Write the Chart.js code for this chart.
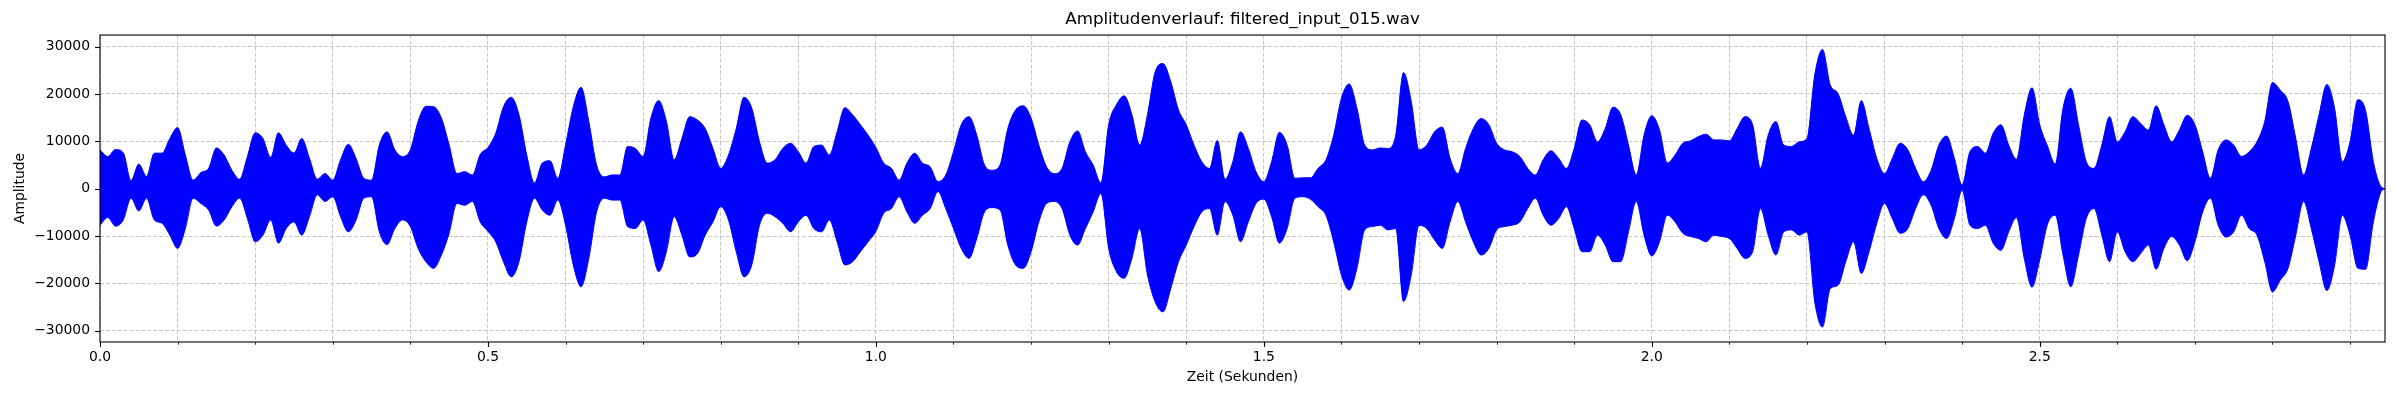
<!DOCTYPE html>
<html>
<head>
<meta charset="utf-8">
<title>Amplitudenverlauf: filtered_input_015.wav</title>
<script src="https://cdn.jsdelivr.net/npm/chart.js@4/dist/chart.umd.min.js"></script>
<style>
  html, body { margin: 0; padding: 0; background: #fff; }
  canvas { display: block; }
</style>
</head>
<body>
<canvas id="waveChart" width="2400" height="400"></canvas>
<script>
// envelope of the waveform, every 10 ms
const timeSec = [
  0.00, 0.01, 0.02, 0.03, 0.04, 0.05, 0.06, 0.07, 0.08, 0.09,
  0.10, 0.11, 0.12, 0.13, 0.14, 0.15, 0.16, 0.17, 0.18, 0.19,
  0.20, 0.21, 0.22, 0.23, 0.24, 0.25, 0.26, 0.27, 0.28, 0.29,
  0.30, 0.31, 0.32, 0.33, 0.34, 0.35, 0.36, 0.37, 0.38, 0.39,
  0.40, 0.41, 0.42, 0.43, 0.44, 0.45, 0.46, 0.47, 0.48, 0.49,
  0.50, 0.51, 0.52, 0.53, 0.54, 0.55, 0.56, 0.57, 0.58, 0.59,
  0.60, 0.61, 0.62, 0.63, 0.64, 0.65, 0.66, 0.67, 0.68, 0.69,
  0.70, 0.71, 0.72, 0.73, 0.74, 0.75, 0.76, 0.77, 0.78, 0.79,
  0.80, 0.81, 0.82, 0.83, 0.84, 0.85, 0.86, 0.87, 0.88, 0.89,
  0.90, 0.91, 0.92, 0.93, 0.94, 0.95, 0.96, 0.97, 0.98, 0.99,
  1.00, 1.01, 1.02, 1.03, 1.04, 1.05, 1.06, 1.07, 1.08, 1.09,
  1.10, 1.11, 1.12, 1.13, 1.14, 1.15, 1.16, 1.17, 1.18, 1.19,
  1.20, 1.21, 1.22, 1.23, 1.24, 1.25, 1.26, 1.27, 1.28, 1.29,
  1.30, 1.31, 1.32, 1.33, 1.34, 1.35, 1.36, 1.37, 1.38, 1.39,
  1.40, 1.41, 1.42, 1.43, 1.44, 1.45, 1.46, 1.47, 1.48, 1.49,
  1.50, 1.51, 1.52, 1.53, 1.54, 1.55, 1.56, 1.57, 1.58, 1.59,
  1.60, 1.61, 1.62, 1.63, 1.64, 1.65, 1.66, 1.67, 1.68, 1.69,
  1.70, 1.71, 1.72, 1.73, 1.74, 1.75, 1.76, 1.77, 1.78, 1.79,
  1.80, 1.81, 1.82, 1.83, 1.84, 1.85, 1.86, 1.87, 1.88, 1.89,
  1.90, 1.91, 1.92, 1.93, 1.94, 1.95, 1.96, 1.97, 1.98, 1.99,
  2.00, 2.01, 2.02, 2.03, 2.04, 2.05, 2.06, 2.07, 2.08, 2.09,
  2.10, 2.11, 2.12, 2.13, 2.14, 2.15, 2.16, 2.17, 2.18, 2.19,
  2.20, 2.21, 2.22, 2.23, 2.24, 2.25, 2.26, 2.27, 2.28, 2.29,
  2.30, 2.31, 2.32, 2.33, 2.34, 2.35, 2.36, 2.37, 2.38, 2.39,
  2.40, 2.41, 2.42, 2.43, 2.44, 2.45, 2.46, 2.47, 2.48, 2.49,
  2.50, 2.51, 2.52, 2.53, 2.54, 2.55, 2.56, 2.57, 2.58, 2.59,
  2.60, 2.61, 2.62, 2.63, 2.64, 2.65, 2.66, 2.67, 2.68, 2.69,
  2.70, 2.71, 2.72, 2.73, 2.74, 2.75, 2.76, 2.77, 2.78, 2.79,
  2.80, 2.81, 2.82, 2.83, 2.84, 2.85, 2.86, 2.87, 2.88, 2.89,
  2.90, 2.91, 2.92, 2.93, 2.94, 2.945
];

const upperEnv = [
  8200, 6800, 8300, 7600, 1700, 5200, 2600, 7500, 7500, 10600,
  12900, 7100, 1800, 3400, 4300, 8600, 7100, 3900, 2000, 6800,
  11800, 10600, 6600, 11800, 9200, 7500, 10600, 6400, 2000, 3200,
  1800, 6100, 9400, 6400, 2200, 1800, 9200, 12000, 8200, 6800,
  8200, 14200, 17400, 17300, 14900, 9200, 3200, 3600, 2900, 7200,
  8700, 11700, 17300, 19300, 15600, 7100, 1200, 5400, 5900, 2200,
  9200, 17300, 21400, 14200, 5000, 2500, 2900, 2900, 8900, 8500,
  6800, 14900, 18600, 14200, 6100, 10600, 15200, 14500, 12700, 8500,
  4300, 7100, 12700, 19300, 17000, 9900, 5400, 6100, 8500, 9600,
  7800, 5400, 8900, 9200, 7100, 12000, 17100, 15600, 13500, 11300,
  8700, 5400, 4300, 1800, 5400, 7500, 5400, 4600, 1500, 2900,
  7800, 13500, 15200, 11300, 5000, 3900, 5000, 12700, 16600, 17500,
  14900, 9200, 4600, 3200, 4300, 9900, 12200, 7800, 5000, 1200,
  13500, 17700, 19600, 15600, 9200, 15600, 24700, 26400, 22600, 16600,
  13500, 9200, 5700, 4300, 10200, 2000, 5700, 12000, 8500, 3600,
  1500, 5700, 11900, 9200, 2200, 2300, 2300, 4300, 6100, 11300,
  19100, 22100, 17000, 9200, 8200, 8600, 8500, 11300, 24500, 18400,
  8200, 9200, 12000, 13000, 6400, 3200, 8500, 12700, 14800, 13500,
  9600, 8200, 7800, 6800, 4300, 2900, 6100, 8000, 6400, 4300,
  8500, 14500, 13500, 9900, 12700, 17200, 15600, 9200, 2900, 11300,
  15400, 12400, 5400, 7100, 9600, 10100, 11000, 11500, 10300, 10300,
  10100, 12700, 15200, 13500, 4300, 11300, 14200, 9200, 8900, 9900,
  10600, 24000, 29400, 21900, 20100, 15200, 11300, 18600, 12700, 6400,
  3200, 6400, 9600, 8200, 4300, 1500, 3900, 9200, 11100, 6400,
  800, 7800, 8900, 7500, 11700, 13500, 9200, 6200, 15500, 21300,
  13500, 9000, 5200, 17000, 21200, 13500, 5700, 4300, 9200, 15200,
  9900, 12000, 15200, 13800, 12400, 17500, 13500, 9900, 12400, 15500,
  13500, 7800, 2200, 8200, 10300, 9200, 6800, 7800, 9900, 14200,
  22400, 20800, 18400, 10600, 2900, 8500, 15600, 22000, 17000, 5700,
  9900, 18800, 16500, 5700, 400, 0
];

const lowerEnv = [
  -7700, -6100, -7900, -6600, -2000, -4700, -2000, -6600, -7300, -9800,
  -12600, -8400, -2000, -3100, -4500, -7900, -6600, -3800, -2000, -6300,
  -11200, -9800, -6600, -11500, -8400, -7000, -9800, -5900, -1300, -2700,
  -1700, -5900, -9100, -6600, -2000, -1700, -9100, -11800, -8400, -6600,
  -8000, -12600, -15400, -16800, -14000, -9400, -3100, -3500, -2700, -7000,
  -9000, -11200, -15400, -18600, -15400, -7000, -2000, -4500, -5600, -2400,
  -7700, -16100, -20700, -14700, -4900, -2000, -2400, -2400, -8000, -8400,
  -6600, -11900, -17500, -13300, -5900, -9800, -14400, -13700, -9800, -7000,
  -3800, -6600, -13300, -18600, -16100, -7700, -5200, -5900, -7300, -9100,
  -7000, -5600, -8400, -9100, -6600, -11200, -16100, -15400, -13300, -11200,
  -9000, -5200, -4200, -1700, -4900, -7300, -5600, -4200, -600, -4200,
  -8400, -12600, -14700, -10500, -4900, -4000, -4500, -11900, -16100, -16800,
  -13300, -7000, -3100, -2700, -4200, -9800, -11900, -8400, -4900, -1000,
  -12600, -17500, -18900, -14700, -8400, -18200, -23900, -26000, -21100, -15400,
  -11900, -8000, -4900, -4200, -9800, -2700, -5600, -11200, -7000, -3100,
  -2200, -5900, -11500, -8400, -2000, -1700, -2200, -3800, -5600, -11200,
  -18200, -21400, -16800, -8700, -8000, -7700, -8700, -8400, -23800, -18200,
  -7700, -8400, -10800, -12600, -7000, -2700, -7000, -11200, -14000, -12600,
  -8700, -8000, -7700, -7000, -4200, -2000, -5600, -7700, -6300, -3800,
  -8400, -13300, -13300, -9800, -11900, -15400, -15400, -9100, -2700, -9800,
  -14200, -11200, -5600, -7000, -9400, -10100, -10500, -11200, -9800, -10100,
  -10500, -12600, -14700, -13300, -4200, -9800, -14000, -9100, -8700, -9800,
  -9100, -23900, -29200, -21100, -20400, -15400, -11200, -17900, -13300, -7300,
  -3100, -6300, -9400, -8400, -4200, -1300, -3500, -8400, -10500, -6300,
  -300, -7700, -8400, -7700, -11500, -13000, -9100, -6100, -14700, -20800,
  -15000, -7500, -5600, -14000, -20700, -14000, -6300, -4200, -9800, -15400,
  -9100, -13300, -15400, -13700, -11900, -17000, -12600, -10100, -11900, -15200,
  -11200, -4900, -2000, -7700, -10200, -9100, -5600, -8400, -9800, -15400,
  -21800, -19300, -16800, -9800, -2700, -8400, -15400, -21500, -16200, -5600,
  -9800, -16800, -17000, -7000, -600, 0
];

// axes
const xGridTicks = [
  0.0, 0.1, 0.2, 0.3, 0.4, 0.5, 0.6, 0.7, 0.8, 0.9,
  1.0, 1.1, 1.2, 1.3, 1.4, 1.5, 1.6, 1.7, 1.8, 1.9,
  2.0, 2.1, 2.2, 2.3, 2.4, 2.5, 2.6, 2.7, 2.8, 2.9
];
const xMajorTicks = [0.0, 0.5, 1.0, 1.5, 2.0, 2.5];
const xMajorLabels = ['0.0', '0.5', '1.0', '1.5', '2.0', '2.5'];
const yTicks = [-30000, -20000, -10000, 0, 10000, 20000, 30000];
const yTickLabels = ['\u221230000', '\u221220000', '\u221210000', '0', '10000', '20000', '30000'];

const FONT = 'DejaVu Sans';
const GRID_COLOR = 'rgba(176,176,176,0.7)';
const GRID_DASH = [4.1, 1.8];

const isMajor = v => xMajorTicks.some(m => Math.abs(m - v) < 1e-9);

// spines on all four sides plus outward tick marks, matplotlib style
const axisFrame = {
  id: 'axisFrame',
  afterDraw(chart) {
    const { ctx, chartArea: a, scales } = chart;
    ctx.save();
    ctx.setLineDash([]);
    ctx.strokeStyle = '#000';

    scales.x.ticks.forEach(t => {
      const px = Math.round(scales.x.getPixelForValue(t.value)) + 0.5;
      const major = isMajor(t.value);
      ctx.lineWidth = major ? 1.1 : 0.8;
      ctx.beginPath();
      ctx.moveTo(px, a.bottom);
      ctx.lineTo(px, a.bottom + (major ? 4.9 : 2.8));
      ctx.stroke();
    });
    scales.y.ticks.forEach(t => {
      const py = Math.round(scales.y.getPixelForValue(t.value)) + 0.5;
      ctx.lineWidth = 1.1;
      ctx.beginPath();
      ctx.moveTo(a.left, py);
      ctx.lineTo(a.left - 4.9, py);
      ctx.stroke();
    });

    ctx.lineWidth = 1.1;
    ctx.strokeRect(a.left, a.top, a.right - a.left, a.bottom - a.top);
    ctx.restore();
  }
};

const upperPoints = timeSec.map((t, i) => ({ x: t, y: upperEnv[i] }));
const lowerPoints = timeSec.map((t, i) => ({ x: t, y: lowerEnv[i] }));

const envStyle = {
  borderColor: '#0000ff',
  backgroundColor: '#0000ff',
  borderWidth: 1,
  pointRadius: 0,
  cubicInterpolationMode: 'monotone',
};

const config = {
  type: 'line',
  data: {
    datasets: [
      { label: 'upper', data: upperPoints, ...envStyle, fill: '+1' },
      { label: 'lower', data: lowerPoints, ...envStyle, fill: false },
    ],
  },
  options: {
    responsive: false,
    devicePixelRatio: 1,
    animation: false,
    layout: { padding: { left: 0, right: 15, top: 0, bottom: 0 } },
    plugins: {
      legend: { display: false },
      tooltip: { enabled: false },
      title: {
        display: true,
        text: 'Amplitudenverlauf: filtered_input_015.wav',
        color: '#000',
        fullSize: false,
        font: { family: FONT, size: 16.7, weight: 'normal' },
        padding: { top: 10, bottom: 5 },
      },
    },
    scales: {
      x: {
        type: 'linear',
        min: 0,
        max: 2.945,
        offset: false,
        afterBuildTicks: scale => {
          scale.ticks = xGridTicks.map(v => ({ value: v }));
        },
        afterFit: scale => { scale.height = 58; },
        ticks: {
          autoSkip: false,
          maxRotation: 0,
          padding: 7,
          color: '#000',
          font: { family: FONT, size: 13.9 },
          callback: value => {
            const i = xMajorTicks.findIndex(m => Math.abs(m - value) < 1e-9);
            return i >= 0 ? xMajorLabels[i] : '';
          },
        },
        grid: {
          color: GRID_COLOR,
          lineWidth: 1,
          drawTicks: false,
          borderDash: GRID_DASH,
        },
        border: { display: false, dash: GRID_DASH },
        title: {
          display: true,
          text: 'Zeit (Sekunden)',
          color: '#000',
          font: { family: FONT, size: 13.9 },
          padding: { top: 0, bottom: 14 },
        },
      },
      y: {
        type: 'linear',
        min: -32350,
        max: 32430,
        afterBuildTicks: scale => {
          scale.ticks = yTicks.map(v => ({ value: v }));
        },
        afterFit: scale => { scale.width = 100; },
        ticks: {
          padding: 10,
          color: '#000',
          font: { family: FONT, size: 13.9 },
          callback: value => {
            const i = yTicks.indexOf(value);
            return i >= 0 ? yTickLabels[i] : '';
          },
        },
        grid: {
          color: GRID_COLOR,
          lineWidth: 1,
          drawTicks: false,
          borderDash: GRID_DASH,
        },
        border: { display: false, dash: GRID_DASH },
        title: {
          display: true,
          text: 'Amplitude',
          color: '#000',
          font: { family: FONT, size: 13.9 },
          padding: { top: 12, bottom: 0 },
        },
      },
    },
  },
  plugins: [axisFrame],
};

new Chart(document.getElementById('waveChart'), config);
</script>
</body>
</html>
